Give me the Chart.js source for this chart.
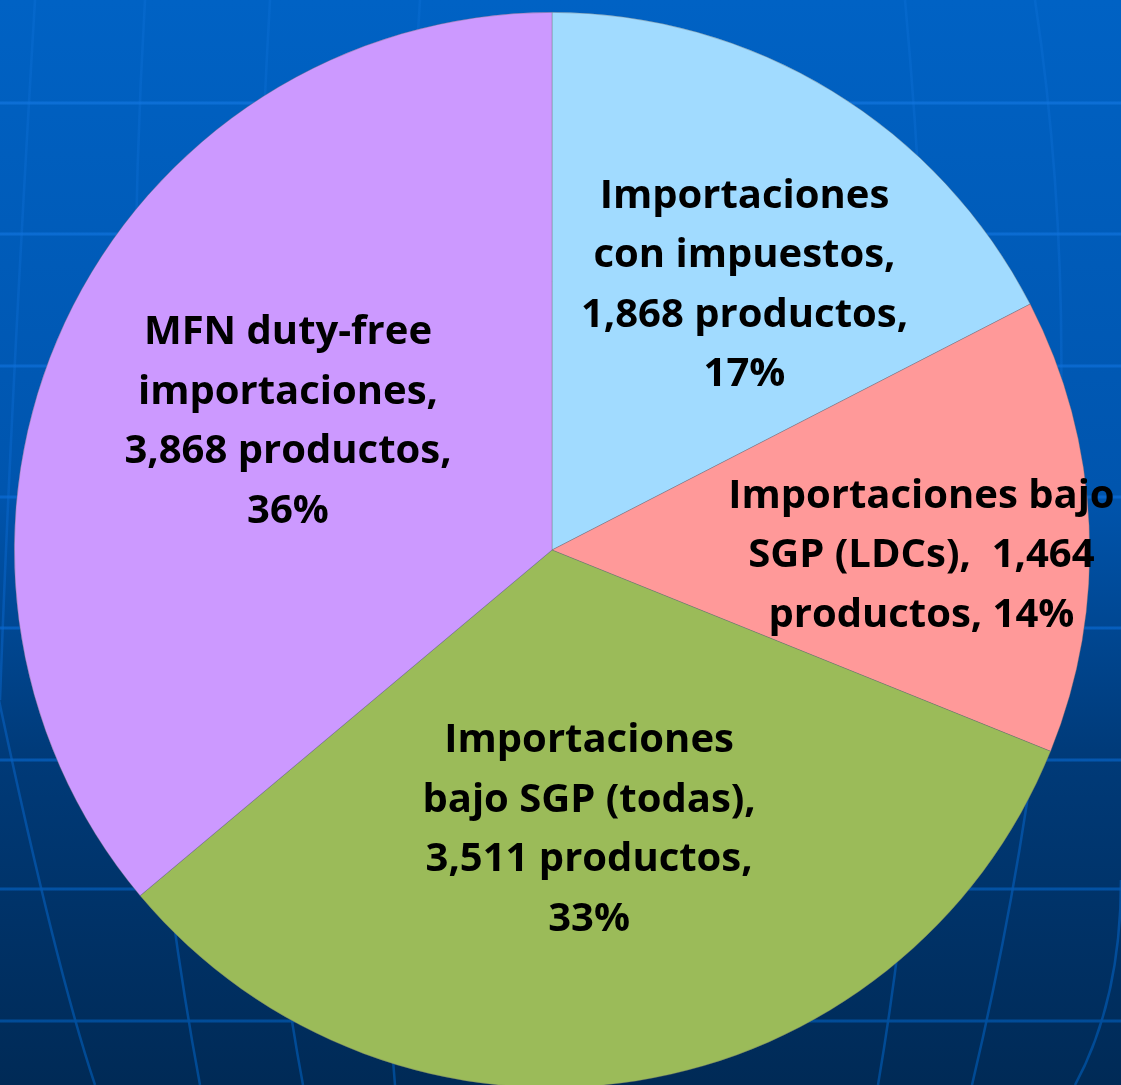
<!DOCTYPE html>
<html lang="es">
<head>
    <meta charset="UTF-8">
    <script src="https://cdn.jsdelivr.net/npm/chart.js"></script>
    <style>
        html, body {
            margin: 0;
            padding: 0;
            width: 1121px;
            height: 1085px;
            overflow: hidden;
        }
        #bg {
            position: absolute;
            left: 0;
            top: 0;
        }
        .pie-box {
            position: absolute;
            left: 0;
            top: 0;
            width: 1121px;
            height: 1088px;
        }
    </style>
</head>
<body>
    <canvas id="bg" width="1121" height="1085"></canvas>
    <div class="pie-box">
        <canvas id="pieChart"></canvas>
    </div>

    <script>
        // datos del gráfico
        const categories = [
            'Importaciones con impuestos',
            'Importaciones bajo SGP (LDCs)',
            'Importaciones bajo SGP (todas)',
            'MFN duty-free importaciones'
        ];
        const productos = [1868, 1464, 3511, 3868];
        const colores = ['#A1DBFF', '#FF9999', '#9BBB59', '#CC99FF'];

        // lineas de cada etiqueta ({v} = productos, {p} = porcentaje)
        const labelLines = [
            ['Importaciones', 'con impuestos,', '{v} productos,', '{p}%'],
            ['Importaciones bajo', 'SGP (LDCs),  {v}', 'productos, {p}%'],
            ['Importaciones', 'bajo SGP (todas),', '{v} productos,', '{p}%'],
            ['MFN duty-free', 'importaciones,', '{v} productos,', '{p}%']
        ];
        // centro de cada etiqueta relativo al centro del pastel, en radios
        const labelPos = [
            [0.358, -0.492],
            [0.687, 0.011],
            [0.069, 0.521],
            [-0.491, -0.238]
        ];

        // fondo azul con la rejilla
        function drawBackground() {
            const c = document.getElementById('bg').getContext('2d');
            const g = c.createLinearGradient(0, 0, 0, 1085);
            g.addColorStop(0, '#0062C4');
            g.addColorStop(0.45, '#0055AE');
            g.addColorStop(0.7, '#003A78');
            g.addColorStop(1, '#002A56');
            c.fillStyle = g;
            c.fillRect(0, 0, 1121, 1085);

            const lg = c.createLinearGradient(0, 0, 0, 1085);
            lg.addColorStop(0, 'rgba(20,120,225,0.7)');
            lg.addColorStop(0.5, 'rgba(10,105,210,0.75)');
            lg.addColorStop(1, 'rgba(0,75,150,0.95)');
            c.strokeStyle = lg;
            c.lineWidth = 3;
            [103, 234, 366, 497, 628, 760, 889, 1021].forEach(y => {
                c.beginPath();
                c.moveTo(0, y);
                c.lineTo(1121, y);
                c.stroke();
            });

            const mg = c.createLinearGradient(0, 0, 0, 1085);
            mg.addColorStop(0, 'rgba(20,120,225,0.25)');
            mg.addColorStop(0.55, 'rgba(10,105,210,0.45)');
            mg.addColorStop(1, 'rgba(0,75,150,0.95)');
            c.strokeStyle = mg;
            c.lineWidth = 2.5;
            const meridians = [
                [[35, 0], [10, 420], [0, 700]],
                [[-80, 300], [30, 890], [95, 1085]],
                [[145, 0], [110, 600], [200, 1085]],
                [[270, 0], [230, 700], [303, 1085]],
                [[420, 0], [370, 800], [395, 1085]],
                [[905, 0], [960, 600], [878, 1085]],
                [[1035, 0], [1110, 500], [972, 1085]],
                [[1121, 880], [1121, 1000], [1075, 1085]]
            ];
            meridians.forEach(m => {
                c.beginPath();
                c.moveTo(m[0][0], m[0][1]);
                c.quadraticCurveTo(m[1][0], m[1][1], m[2][0], m[2][1]);
                c.stroke();
            });
        }
        drawBackground();

        const total = productos.reduce((a, b) => a + b, 0);

        const pieLabels = {
            id: 'pieLabels',
            afterDatasetsDraw(chart) {
                const ctx = chart.ctx;
                const arc = chart.getDatasetMeta(0).data[0];
                const cx = arc.x, cy = arc.y, r = arc.outerRadius;
                ctx.save();
                ctx.fillStyle = '#000000';
                ctx.font = 'bold 40px "Open Sans", Lato, sans-serif';
                ctx.textAlign = 'center';
                ctx.textBaseline = 'middle';
                const lineH = 59.5;
                productos.forEach((v, i) => {
                    const pct = Math.round(v / total * 100);
                    const lines = labelLines[i].map(s => s
                        .replace('{v}', v.toLocaleString('en-US'))
                        .replace('{p}', pct));
                    const x = cx + labelPos[i][0] * r;
                    const y0 = cy + labelPos[i][1] * r - (lines.length - 1) * lineH / 2;
                    lines.forEach((t, k) => ctx.fillText(t, x, y0 + k * lineH));
                });
                ctx.restore();
            }
        };

        new Chart(document.getElementById('pieChart'), {
            type: 'pie',
            data: {
                labels: categories,
                datasets: [{
                    data: productos,
                    backgroundColor: colores,
                    borderWidth: 0.6,
                    borderColor: 'rgba(110,110,110,0.6)'
                }]
            },
            options: {
                responsive: true,
                maintainAspectRatio: false,
                animation: false,
                layout: { padding: { left: 14, right: 31, top: 12, bottom: 0 } },
                plugins: {
                    legend: { display: false },
                    tooltip: { enabled: false }
                }
            },
            plugins: [pieLabels]
        });
    </script>
</body>
</html>
